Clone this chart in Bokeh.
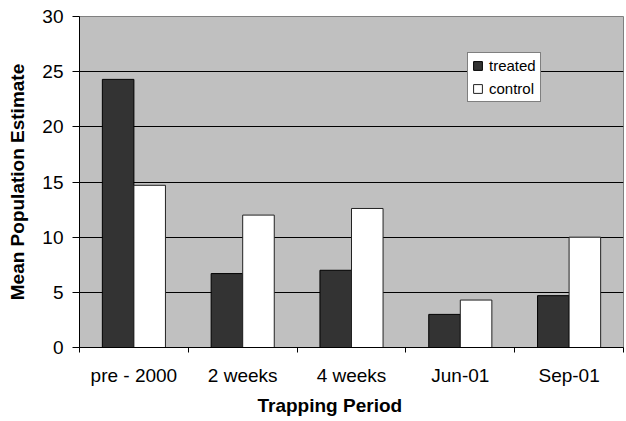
from bokeh.plotting import figure
from bokeh.models import (ColumnDataSource, FixedTicker, Range1d, Legend, LegendItem, Title)
from bokeh.embed import file_html
from bokeh.resources import INLINE

# ---- data ----
categories = ["pre - 2000", "2 weeks", "4 weeks", "Jun-01", "Sep-01"]
treated = [24.3, 6.7, 7.0, 3.0, 4.7]
control = [14.7, 12.0, 12.6, 4.3, 10.0]
y_ticks = [0, 5, 10, 15, 20, 25, 30]

FONT = "Liberation Sans"
BAR_W = 0.29

idx = list(range(len(categories)))
src = ColumnDataSource(data=dict(
    xt=[i + 0.5 - BAR_W / 2 for i in idx],
    xc=[i + 0.5 + BAR_W / 2 for i in idx],
    treated=treated,
    control=control,
))

p = figure(width=624, height=420, output_backend="svg", toolbar_location=None,
           x_range=Range1d(0, len(categories)), y_range=Range1d(0, 30),
           min_border_left=79, min_border_right=1, min_border_top=16, min_border_bottom=73)

p.background_fill_color = "#C0C0C0"
p.border_fill_color = "white"
p.outline_line_color = "#808080"
p.outline_line_width = 1

rt = p.vbar(x="xt", top="treated", width=BAR_W, source=src,
            fill_color="#333333", line_color="black", line_width=1)
rc = p.vbar(x="xc", top="control", width=BAR_W, source=src,
            fill_color="white", line_color="#222222", line_width=1)

# grid
p.xgrid.visible = False
p.ygrid.ticker = FixedTicker(ticks=[t for t in y_ticks if 0 < t < 30])
p.ygrid.grid_line_color = "black"
p.ygrid.grid_line_width = 1

# y axis
ya = p.yaxis[0]
ya.ticker = FixedTicker(ticks=y_ticks)
ya.axis_line_color = "black"
ya.major_tick_line_color = "black"
ya.major_tick_out = 7
ya.major_tick_in = 0
ya.minor_tick_line_color = None
ya.major_label_text_font = FONT
ya.major_label_text_font_size = "19px"
ya.major_label_text_color = "black"
ya.major_label_standoff = 9
ya.axis_label = "Mean Population Estimate"
ya.axis_label_text_font = FONT
ya.axis_label_text_font_size = "19px"
ya.axis_label_text_font_style = "bold"
ya.axis_label_text_color = "black"
ya.axis_label_standoff = 11

# x axis: labels at category centres, ticks at boundaries
xa = p.xaxis[0]
xa.ticker = FixedTicker(ticks=[i + 0.5 for i in idx],
                        minor_ticks=list(range(len(categories) + 1)))
xa.major_label_overrides = {i + 0.5: c for i, c in zip(idx, categories)}
xa.axis_line_color = "black"
xa.major_tick_out = 0
xa.major_tick_in = 0
xa.major_tick_line_color = None
xa.minor_tick_line_color = "black"
xa.minor_tick_out = 5
xa.minor_tick_in = 0
xa.major_label_text_font = FONT
xa.major_label_text_font_size = "19px"
xa.major_label_text_color = "black"
xa.major_label_standoff = 12

xt = Title(text="Trapping Period", align="left", offset=178, standoff=8,
           text_font=FONT, text_font_size="19px", text_font_style="bold",
           text_color="black")
p.add_layout(xt, "below")

legend = Legend(items=[LegendItem(label="treated", renderers=[rt]),
                       LegendItem(label="control", renderers=[rc])],
                location=(388, 245))
legend.label_text_font = FONT
legend.label_text_font_size = "15px"
legend.label_text_color = "black"
legend.glyph_width = 11
legend.glyph_height = 11
legend.label_standoff = 6
legend.padding = 4
legend.spacing = 6
legend.margin = 0
legend.border_line_color = "black"
legend.border_line_width = 1
legend.background_fill_color = "white"
legend.background_fill_alpha = 1
p.add_layout(legend, "center")

open("out.html", "w").write(file_html(p, INLINE))
